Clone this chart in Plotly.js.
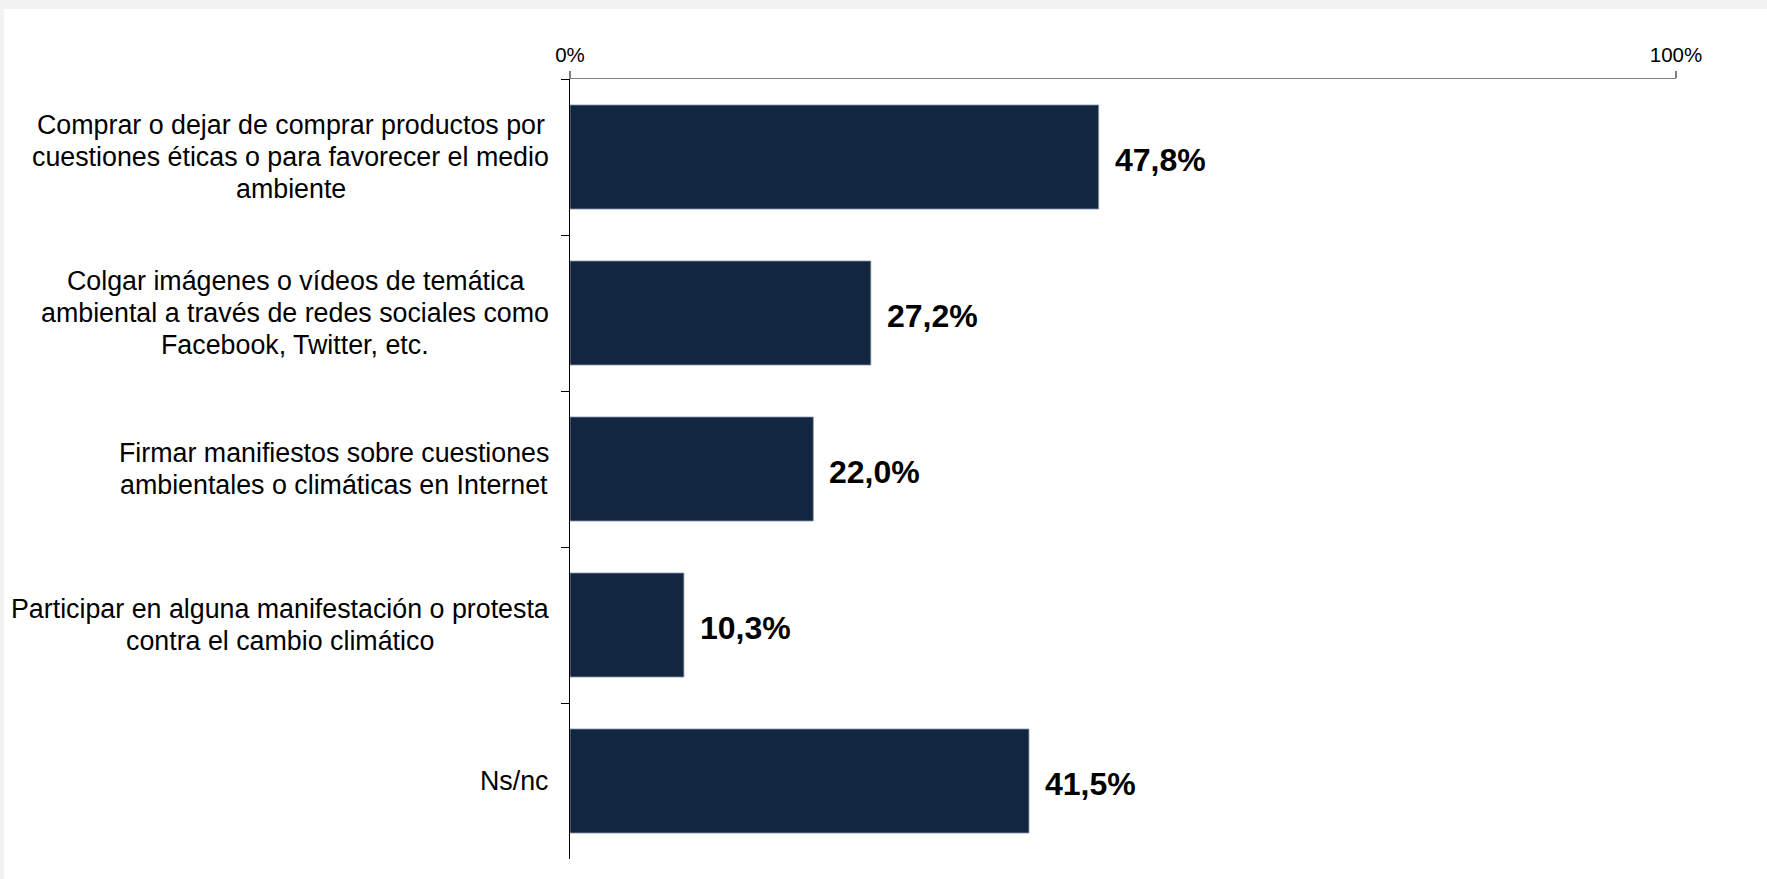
<!DOCTYPE html>
<html>
<head>
<meta charset="utf-8">
<script src="https://cdn.plot.ly/plotly-3.0.1.min.js"></script>
<style>
  html, body { margin: 0; padding: 0; background: #f2f2f2; width: 1767px; height: 879px; overflow: hidden; }
  #chart { position: absolute; left: 4px; top: 9px; width: 1763px; height: 870px; background: #ffffff; }
</style>
</head>
<body>
<div id="chart"></div>
<script>
const categories = [
  "Comprar o dejar de comprar productos por<br>cuestiones éticas o para favorecer el medio<br>ambiente",
  "Colgar imágenes o vídeos de temática<br>ambiental a través de redes sociales como<br>Facebook, Twitter, etc.",
  "Firmar manifiestos sobre cuestiones<br>ambientales o climáticas en Internet",
  "Participar en alguna manifestación o protesta<br>contra el cambio climático",
  "Ns/nc"
];
const values = [47.8, 27.2, 22.0, 10.3, 41.5];
const xTickVals = [0, 100];
const xTickText = ["0%", "100%"];

const fmt = v => v.toFixed(1).replace('.', ',') + '%';

const LABEL_FONT = 'Liberation Sans, Arial, sans-serif';
const LABEL_SIZE = 26.8;
const LINE_STEP = 31.6;
const RIGHT_GAP = 21;

const cnv = document.createElement('canvas');
const ctx = cnv.getContext('2d');
ctx.font = LABEL_SIZE + 'px "Liberation Sans", Arial, sans-serif';

const trace = {
  type: 'bar',
  orientation: 'h',
  x: values,
  y: categories,
  marker: { color: '#132640', line: { color: '#8a9ab0', width: 0.8 } },
  hoverinfo: 'skip'
};

const annotations = [];
categories.forEach((c, i) => {
  const lines = c.split('<br>');
  const maxW = Math.max(...lines.map(l => ctx.measureText(l).width));
  const n = lines.length;
  lines.forEach((ln, k) => {
    annotations.push({
      xref: 'paper', yref: 'y', x: 0, y: c,
      xanchor: 'center', yanchor: 'middle',
      xshift: -(RIGHT_GAP + maxW / 2),
      yshift: -(k - (n - 1) / 2) * LINE_STEP,
      showarrow: false, text: ln,
      font: { family: LABEL_FONT, size: LABEL_SIZE, color: '#000000' }
    });
  });
  annotations.push({
    xref: 'x', yref: 'y', x: values[i], y: c,
    xanchor: 'left', yanchor: 'middle', xshift: 14, yshift: -3,
    showarrow: false, text: '<b>' + fmt(values[i]) + '</b>',
    font: { family: LABEL_FONT, size: 32, color: '#000000' }
  });
});

const layout = {
  width: 1763, height: 870,
  paper_bgcolor: '#ffffff', plot_bgcolor: '#ffffff',
  margin: { l: 566, r: 91, t: 70, b: 20, pad: 0 },
  showlegend: false,
  bargap: 0.333,
  xaxis: {
    side: 'top', range: [0, 100], fixedrange: true,
    tickmode: 'array', tickvals: xTickVals, ticktext: xTickText,
    ticks: 'outside', ticklen: 7, tickwidth: 1.5, tickcolor: '#7f7f7f',
    showline: true, linecolor: '#7f7f7f', linewidth: 1.5,
    showgrid: false, zeroline: false,
    tickfont: { family: LABEL_FONT, size: 20.5, color: '#000000' }
  },
  yaxis: {
    type: 'category', autorange: 'reversed', fixedrange: true,
    tickson: 'boundaries', ticks: 'outside', ticklen: 8, tickwidth: 1, tickcolor: '#000000',
    showline: true, linecolor: '#000000', linewidth: 1,
    showgrid: false, zeroline: false, showticklabels: false
  },
  annotations: annotations
};

Plotly.newPlot('chart', [trace], layout, { displayModeBar: false, staticPlot: true });
</script>
</body>
</html>
